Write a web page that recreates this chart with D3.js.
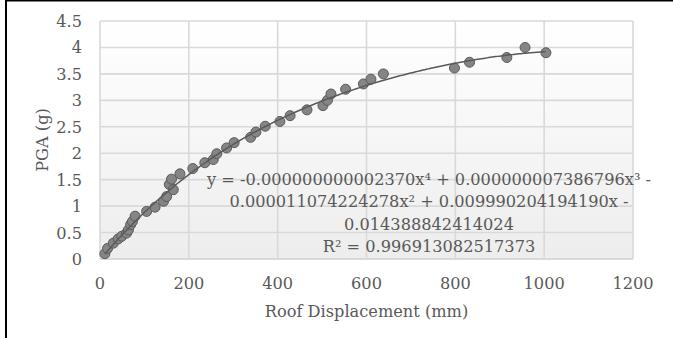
<!DOCTYPE html>
<html>
<head>
<meta charset="utf-8">
<script src="https://cdn.jsdelivr.net/npm/d3@7"></script>
<style>
  body { margin: 0; background: #fff; }
  text { font-family: "DejaVu Serif", serif; fill: #595959; }
</style>
</head>
<body>
<div id="chart"></div>
<script>
// Roof displacement (mm) vs PGA (g)
const dispMm = [11, 17, 30, 41, 49, 60, 64, 69, 73, 79, 105, 124, 143, 150, 156, 161, 165, 180,
  209, 236, 255, 263, 285, 302, 339, 351, 372, 405, 428, 466, 502, 512, 520, 553, 593, 610, 638,
  798, 832, 916, 957, 1004];
const pgaG = [0.1, 0.2, 0.3, 0.38, 0.43, 0.49, 0.55, 0.65, 0.71, 0.81, 0.9, 0.98, 1.09, 1.18, 1.41, 1.51, 1.31, 1.61,
  1.71, 1.82, 1.88, 1.99, 2.1, 2.2, 2.3, 2.4, 2.51, 2.6, 2.71, 2.82, 2.9, 3.0, 3.12, 3.21, 3.31, 3.4, 3.5,
  3.61, 3.72, 3.81, 4.0, 3.9];

// trendline coefficients as printed on the chart (x^4 .. x^0)
const trendCoef = [-0.000000000002370, 0.000000007386796, -0.000011074224278, 0.009990204194190, -0.014388842414024];

const xTicks = [0, 200, 400, 600, 800, 1000, 1200];
const yTicks = [0, 0.5, 1, 1.5, 2, 2.5, 3, 3.5, 4, 4.5];

const eqLines = [
  "y = -0.000000000002370x⁴ + 0.000000007386796x³ -",
  "0.000011074224278x² + 0.009990204194190x -",
  "0.014388842414024",
  "R² = 0.996913082517373"
];

const W = 673, H = 338;
const m = { left: 100, right: 40, top: 21, bottom: 79 };
const fs = '16.2px';

const svg = d3.select('#chart').append('svg')
  .attr('width', W)
  .attr('height', H);

const x = d3.scaleLinear().domain([0, 1200]).range([m.left, W - m.right]);
const y = d3.scaleLinear().domain([0, 4.5]).range([H - m.bottom, m.top]);

// plot background gradient
const grad = svg.append('defs').append('linearGradient')
  .attr('id', 'bg').attr('x1', 0).attr('y1', 0).attr('x2', 0).attr('y2', 1);
grad.append('stop').attr('offset', '0%').attr('stop-color', '#ffffff');
grad.append('stop').attr('offset', '100%').attr('stop-color', '#ededed');

svg.append('rect')
  .attr('x', x(0)).attr('y', y(4.5))
  .attr('width', x(1200) - x(0)).attr('height', y(0) - y(4.5))
  .attr('fill', 'url(#bg)');

// gridlines
svg.selectAll('.hgrid').data(yTicks).enter().append('line')
  .attr('class', 'hgrid')
  .attr('x1', x(0)).attr('x2', x(1200))
  .attr('y1', d => y(d)).attr('y2', d => y(d))
  .attr('stroke', d => d === 0 ? '#cfcfcf' : '#d9d9d9')
  .attr('stroke-width', 1.6);

svg.selectAll('.vgrid').data(xTicks).enter().append('line')
  .attr('class', 'vgrid')
  .attr('x1', d => x(d)).attr('x2', d => x(d))
  .attr('y1', y(0)).attr('y2', y(4.5))
  .attr('stroke', '#d9d9d9')
  .attr('stroke-width', 1.6);

// tick labels
svg.selectAll('.xlab').data(xTicks).enter().append('text')
  .attr('x', d => x(d))
  .attr('y', y(0) + 30)
  .attr('text-anchor', 'middle')
  .style('font-size', fs)
  .text(d => d);

svg.selectAll('.ylab').data(yTicks).enter().append('text')
  .attr('x', x(0) - 18)
  .attr('y', d => y(d) + 6)
  .attr('text-anchor', 'end')
  .style('font-size', fs)
  .text(d => d);

// axis titles
svg.append('text')
  .attr('x', (x(0) + x(1200)) / 2)
  .attr('y', 317)
  .attr('text-anchor', 'middle')
  .style('font-size', fs)
  .text('Roof Displacement (mm)');

svg.append('text')
  .attr('transform', `translate(48, ${(y(0) + y(4.5)) / 2}) rotate(-90)`)
  .attr('text-anchor', 'middle')
  .style('font-size', fs)
  .text('PGA (g)');

// points
const pts = dispMm.map((d, i) => ({ x: d, y: pgaG[i] }));
svg.selectAll('.pt').data(pts).enter().append('circle')
  .attr('class', 'pt')
  .attr('cx', d => x(d.x))
  .attr('cy', d => y(d.y))
  .attr('r', 5)
  .attr('fill', '#858585')
  .attr('stroke', '#5a5a5a')
  .attr('stroke-width', 1);

// polynomial trendline over the data range
const poly = v => trendCoef.reduce((acc, c) => acc * v + c, 0);
const xs = d3.range(d3.min(dispMm), d3.max(dispMm) + 1, 4);
svg.append('path')
  .datum(xs)
  .attr('fill', 'none')
  .attr('stroke', '#595959')
  .attr('stroke-width', 1.5)
  .attr('d', d3.line().x(d => x(d)).y(d => y(poly(d))));

// equation label
svg.selectAll('.eq').data(eqLines).enter().append('text')
  .attr('class', 'eq')
  .attr('x', 429)
  .attr('y', (d, i) => 185 + i * 22.3)
  .attr('text-anchor', 'middle')
  .style('font-size', fs)
  .text(d => d);

// frame edges (top and left)
svg.append('line').attr('x1', 5).attr('x2', W).attr('y1', 0.5).attr('y2', 0.5)
  .attr('stroke', '#000').attr('stroke-width', 2);
svg.append('line').attr('x1', 6).attr('x2', 6).attr('y1', 0).attr('y2', H)
  .attr('stroke', '#000').attr('stroke-width', 2);
</script>
</body>
</html>
